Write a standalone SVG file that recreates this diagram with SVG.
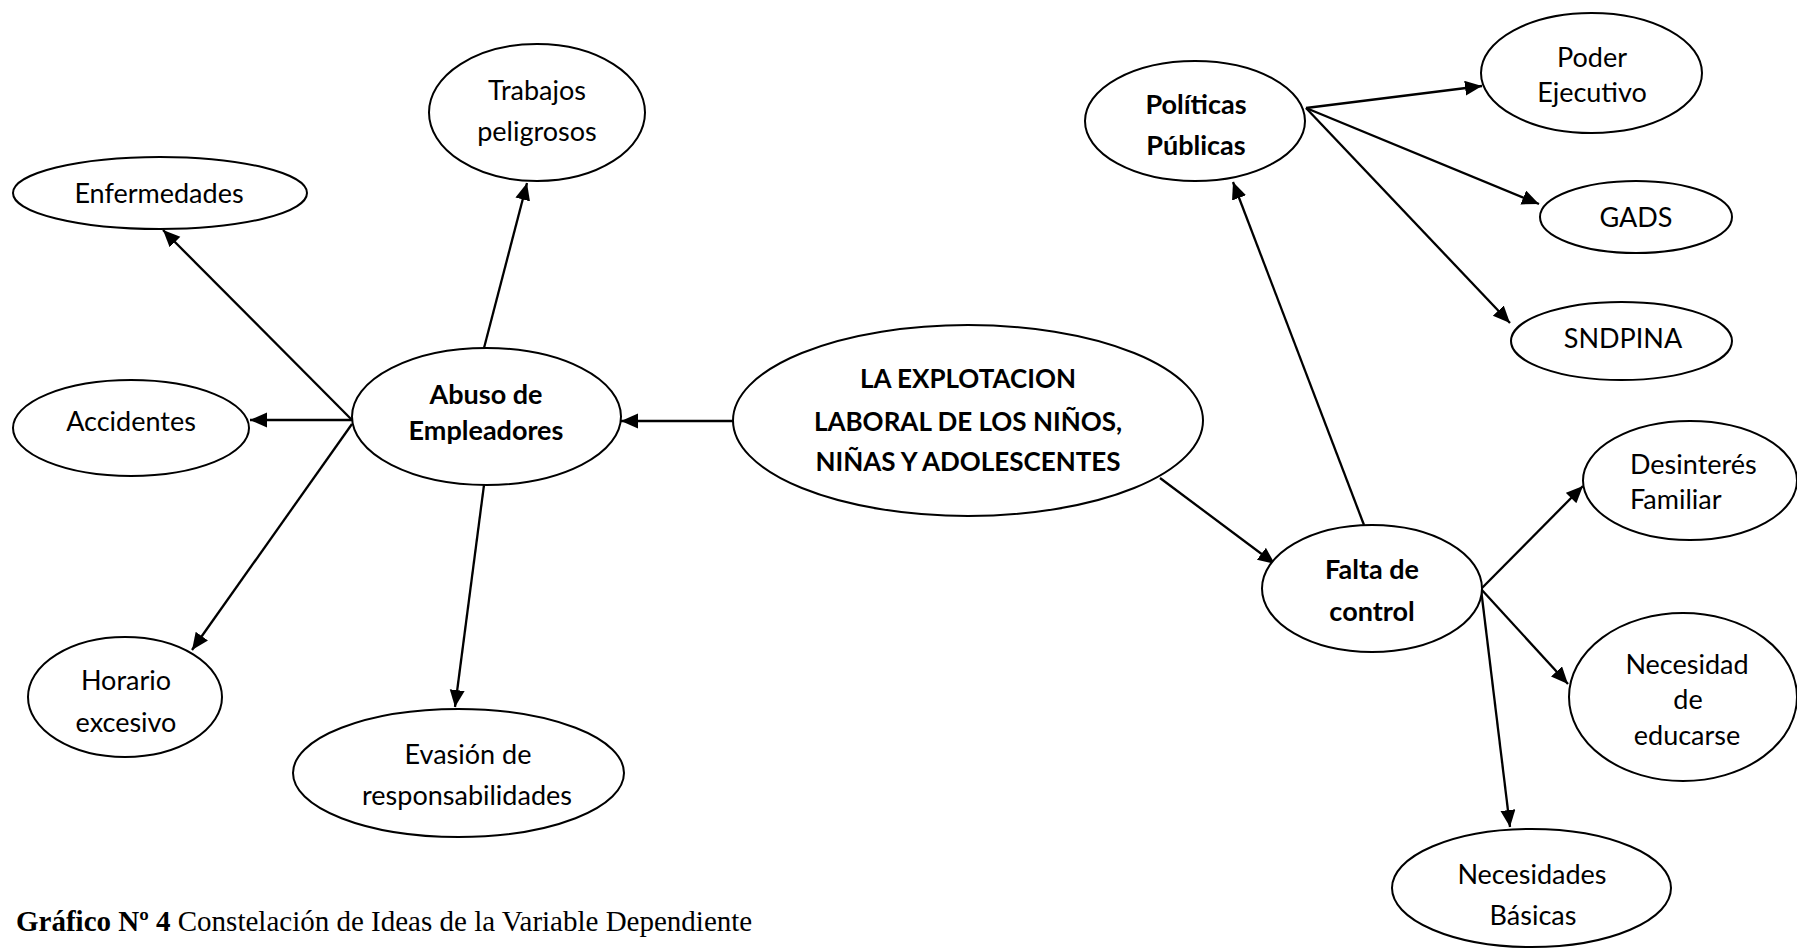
<svg xmlns="http://www.w3.org/2000/svg" width="1797" height="948" viewBox="0 0 1797 948">
<style>
.n ellipse{fill:#fff;stroke:#000;stroke-width:2}
.t{font-family:Lato,"Open Sans",sans-serif;font-size:27px;fill:#000;text-anchor:middle}
.b{font-weight:bold}
.big{font-size:26px}
.l{text-anchor:start}
.c line{stroke:#000;stroke-width:2.3;marker-end:url(#ah)}
.cap{font-family:"Liberation Serif","Times New Roman",serif;font-size:29px;fill:#000}
</style>
<defs>
<marker id="ah" markerUnits="userSpaceOnUse" markerWidth="18" markerHeight="16" refX="17" refY="7.5" orient="auto">
<path d="M0,0 L17,7.5 L0,15 z" fill="#000"/>
</marker>
</defs>
<rect width="1797" height="948" fill="#fff"/>
<g class="c" id="connectors">
<line x1="733" y1="421" x2="621" y2="421"/>
<line x1="484" y1="348" x2="527" y2="183"/>
<line x1="352" y1="420" x2="163" y2="230"/>
<line x1="352" y1="420" x2="250" y2="420"/>
<line x1="352" y1="424" x2="192" y2="650"/>
<line x1="484" y1="485" x2="455" y2="707"/>
<line x1="1160" y1="478" x2="1275" y2="564"/>
<line x1="1364" y1="525" x2="1233" y2="182"/>
<line x1="1306" y1="108" x2="1482" y2="86"/>
<line x1="1306" y1="108" x2="1539" y2="204"/>
<line x1="1306" y1="108" x2="1510" y2="323"/>
<line x1="1481" y1="589" x2="1583" y2="486"/>
<line x1="1481" y1="589" x2="1568" y2="684"/>
<line x1="1481" y1="589" x2="1510" y2="827"/>
</g>
<g class="n" id="central">
<ellipse cx="968" cy="420.5" rx="235" ry="95.5"/>
<text class="t b big" x="968" y="388">LA EXPLOTACION</text>
<text class="t b big" x="968" y="431">LABORAL DE LOS NIÑOS,</text>
<text class="t b big" x="968" y="471">NIÑAS Y ADOLESCENTES</text>
</g>
<g class="n" id="abuso">
<ellipse cx="486.5" cy="416.5" rx="134.5" ry="68.5"/>
<text class="t b" x="486" y="404">Abuso de</text>
<text class="t b" x="486" y="440">Empleadores</text>
</g>
<g class="n" id="trabajos">
<ellipse cx="537" cy="112.5" rx="108" ry="68.5"/>
<text class="t" x="537" y="100">Trabajos</text>
<text class="t" x="537" y="141">peligrosos</text>
</g>
<g class="n" id="enfermedades">
<ellipse cx="160" cy="193" rx="147" ry="36"/>
<text class="t" x="159" y="203">Enfermedades</text>
</g>
<g class="n" id="accidentes">
<ellipse cx="131" cy="428" rx="118" ry="48"/>
<text class="t" x="131" y="431">Accidentes</text>
</g>
<g class="n" id="horario">
<ellipse cx="125" cy="697" rx="97" ry="60"/>
<text class="t" x="126" y="690">Horario</text>
<text class="t" x="126" y="732">excesivo</text>
</g>
<g class="n" id="evasion">
<ellipse cx="458.5" cy="773" rx="165.5" ry="64"/>
<text class="t" x="468" y="764">Evasión de</text>
<text class="t" x="467" y="805">responsabilidades</text>
</g>
<g class="n" id="politicas">
<ellipse cx="1195" cy="121" rx="110" ry="60"/>
<text class="t b" x="1196" y="114">Políticas</text>
<text class="t b" x="1196" y="155">Públicas</text>
</g>
<g class="n" id="poder">
<ellipse cx="1591.5" cy="73" rx="110.5" ry="60"/>
<text class="t" x="1592" y="67">Poder</text>
<text class="t" x="1592" y="102">Ejecutivo</text>
</g>
<g class="n" id="gads">
<ellipse cx="1636" cy="217" rx="96" ry="36"/>
<text class="t" x="1636" y="227">GADS</text>
</g>
<g class="n" id="sndpina">
<ellipse cx="1621.5" cy="341" rx="110.5" ry="39"/>
<text class="t" x="1623" y="348">SNDPINA</text>
</g>
<g class="n" id="falta">
<ellipse cx="1372" cy="588.5" rx="110" ry="63.5"/>
<text class="t b" x="1372" y="579">Falta de</text>
<text class="t b" x="1372" y="621">control</text>
</g>
<g class="n" id="desinteres">
<ellipse cx="1690" cy="480.5" rx="107" ry="59.5"/>
<text class="t l" x="1630" y="474">Desinterés</text>
<text class="t l" x="1630" y="509">Familiar</text>
</g>
<g class="n" id="necesidad">
<ellipse cx="1683" cy="697" rx="114" ry="84"/>
<text class="t" x="1687" y="674">Necesidad</text>
<text class="t" x="1688" y="709">de</text>
<text class="t" x="1687" y="745">educarse</text>
</g>
<g class="n" id="necesidades">
<ellipse cx="1531.5" cy="888" rx="139.5" ry="59"/>
<text class="t" x="1532" y="884">Necesidades</text>
<text class="t" x="1533" y="925">Básicas</text>
</g>
<text class="cap" x="16" y="931"><tspan font-weight="bold">Gráfico Nº 4</tspan> Constelación de Ideas de la Variable Dependiente</text>
</svg>
